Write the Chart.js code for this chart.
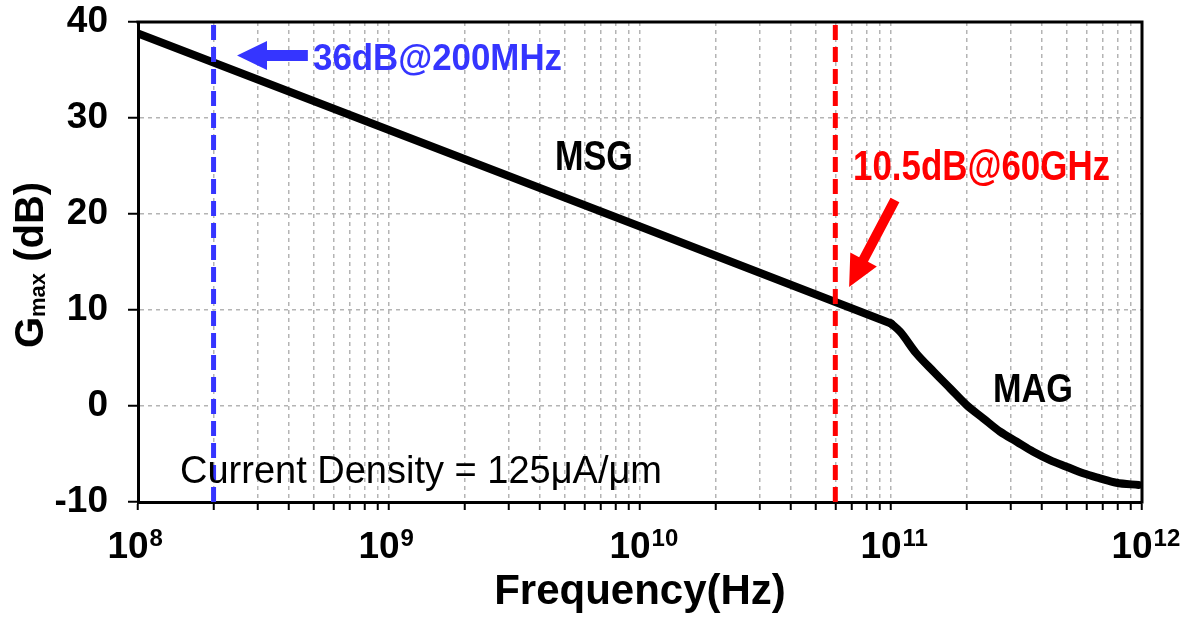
<!DOCTYPE html>
<html><head><meta charset="utf-8">
<script src="https://cdn.jsdelivr.net/npm/chart.js@4/dist/chart.umd.min.js"></script>
<style>html,body{margin:0;padding:0;background:#fff;}#wrap{width:1182px;height:621px;}</style>
</head><body><div id="wrap"><canvas id="c" width="1182" height="621"></canvas></div>
<script>
// ---- data ----
const msgFreqHz = [1e8, 1e9, 1e10, 1e11];
const msgDb = [38.8, 28.75, 18.7, 8.6];
const magFreqHz = [1e11, 1.087e11, 1.26e11, 1.48e11, 1.72e11, 2.0e11, 2.33e11, 2.72e11, 3.17e11, 3.69e11, 4.3e11, 5.0e11, 5.83e11, 6.8e11, 7.9e11, 9.7e11];
const magDb = [8.6, 7.74, 5.49, 3.57, 1.84, 0.10, -1.28, -2.67, -3.72, -4.76, -5.63, -6.32, -7.01, -7.53, -7.99, -8.23];
const markerFreqHz = [2e8, 6e10];
const markerColors = ['#3535ff', '#ff0000'];
const xDecades = [1e8, 1e9, 1e10, 1e11, 1e12];
const xTickBase = ['10', '10', '10', '10', '10'];
const xTickExp = ['8', '9', '10', '11', '12'];
const yTickValues = [-10, 0, 10, 20, 30, 40];
const yMin = -10, yMax = 40;

const xTickValues = [];
for (let d = 0; d < xDecades.length; d++) {
  xTickValues.push(xDecades[d]);
  if (d < xDecades.length - 1) for (let m = 2; m <= 9; m++) xTickValues.push(m * xDecades[d]);
}

const SANS = "'Liberation Sans',Arial,sans-serif";
const TICK_SIZE = 37, X_TICK_LEN = 8, X_TICK_PAD = 16, X_LABEL_OFFSET = -10;

function arrow(ctx, x1, y1, x2, y2, shaftW, headL, headW, color) {
  const ang = Math.atan2(y2 - y1, x2 - x1), len = Math.hypot(x2 - x1, y2 - y1);
  ctx.save(); ctx.translate(x1, y1); ctx.rotate(ang); ctx.fillStyle = color;
  ctx.beginPath();
  ctx.moveTo(0, -shaftW / 2); ctx.lineTo(len - headL, -shaftW / 2); ctx.lineTo(len - headL, -headW / 2);
  ctx.lineTo(len, 0); ctx.lineTo(len - headL, headW / 2); ctx.lineTo(len - headL, shaftW / 2); ctx.lineTo(0, shaftW / 2);
  ctx.closePath(); ctx.fill(); ctx.restore();
}
function txt(ctx, s, x, y, font, color, maxW) {
  ctx.font = font; ctx.fillStyle = color; ctx.textAlign = 'left'; ctx.textBaseline = 'alphabetic';
  if (maxW) ctx.fillText(s, x, y, maxW); else ctx.fillText(s, x, y);
}

const annot = {
  id: 'annot',
  afterDraw(chart) {
    const {ctx, chartArea: a, scales: {x, y}} = chart;
    const X = v => x.getPixelForValue(v), Y = v => y.getPixelForValue(v);
    ctx.save();
    // frame top/right
    ctx.strokeStyle = '#000'; ctx.lineWidth = 3;
    ctx.beginPath(); ctx.moveTo(a.left - 1.5, a.top); ctx.lineTo(a.right, a.top); ctx.lineTo(a.right, a.bottom + 1.5); ctx.stroke();
    // exponents of x tick labels
    ctx.font = "bold " + TICK_SIZE + "px " + SANS; ctx.textBaseline = 'top';
    const m10 = ctx.measureText('10');
    const yLab = x.top + X_TICK_LEN + X_TICK_PAD;
    const glyphTop = yLab - m10.actualBoundingBoxAscent;
    ctx.font = "bold 24px " + SANS;
    const me = ctx.measureText('8');
    xDecades.forEach((d, i) => {
      const px = X(d) + X_LABEL_OFFSET + m10.width / 2 + 1;
      ctx.fillStyle = '#000'; ctx.textAlign = 'left'; ctx.textBaseline = 'top';
      ctx.fillText(xTickExp[i], px, glyphTop + me.actualBoundingBoxAscent);
    });
    // blue annotation
    arrow(ctx, X(4.75e8), Y(36.5), X(2.48e8), Y(36.5), 11, 30, 29, '#3535ff');
    txt(ctx, '36dB@200MHz', X(4.98e8), Y(35.0), "bold 37px " + SANS, '#3535ff', 249);
    // MSG
    txt(ctx, 'MSG', X(4.58e9), Y(24.6), "bold 43px " + SANS, '#000', 78);
    // red annotation
    txt(ctx, '10.5dB@60GHz', X(7.06e10), Y(23.5), "bold 43px " + SANS, '#ff0000', 257);
    arrow(ctx, X(1.037e11), Y(21.46), X(6.81e10), Y(12.4), 10, 31, 30, '#ff0000');
    // MAG
    txt(ctx, 'MAG', X(2.55e11), Y(0.42), "bold 41px " + SANS, '#000', 80);
    // current density
    txt(ctx, 'Current Density = 125\u03bcA/\u03bcm', X(1.47e8), Y(-8.0), "38px " + SANS, '#000');
    // y-axis title with subscript
    const cy = (a.top + a.bottom) / 2 + 3;
    ctx.translate(43, cy); ctx.rotate(-Math.PI / 2);
    ctx.font = "bold 40px " + SANS; const wG = ctx.measureText('G').width;
    const wR = ctx.measureText(' (dB)').width;
    ctx.font = "bold 22px " + SANS; const wM = ctx.measureText('max').width;
    let sx = -(wG + wM + wR) / 2;
    txt(ctx, 'G', sx, 0, "bold 40px " + SANS, '#000'); sx += wG;
    txt(ctx, 'max', sx, 2, "bold 22px " + SANS, '#000'); sx += wM;
    txt(ctx, ' (dB)', sx, 0, "bold 40px " + SANS, '#000');
    ctx.restore();
  }
};

const markerSets = markerFreqHz.map((f, i) => ({
  label: 'marker ' + i, data: [{x: f, y: yMin}, {x: f, y: yMax}],
  borderColor: markerColors[i], borderWidth: 5, borderDash: [15, 7], pointRadius: 0
}));

new Chart(document.getElementById('c'), {
  type: 'line',
  data: {
    datasets: [
      ...markerSets,
      {label: 'MSG', data: msgFreqHz.map((f, i) => ({x: f, y: msgDb[i]})), borderColor: '#000', borderWidth: 8, pointRadius: 0, tension: 0, borderJoinStyle: 'round', borderCapStyle: 'round'},
      {label: 'MAG', data: magFreqHz.map((f, i) => ({x: f, y: magDb[i]})), borderColor: '#000', borderWidth: 8, pointRadius: 0, cubicInterpolationMode: 'monotone', borderJoinStyle: 'round', borderCapStyle: 'round'}
    ]
  },
  options: {
    responsive: false, animation: false,
    layout: {padding: {top: 22, right: 40, left: 0, bottom: 0}},
    plugins: {legend: {display: false}, tooltip: {enabled: false}},
    scales: {
      x: {
        type: 'logarithmic', min: 1e8, max: 1e12,
        afterBuildTicks: s => { s.ticks = xTickValues.map(v => ({value: v})); },
        afterFit: s => { s.height = 119; s.paddingLeft = 0; s.paddingRight = 0; },
        grid: {color: '#b4b4b4', lineWidth: 1.5, tickLength: X_TICK_LEN, tickColor: '#000', tickWidth: 2, tickBorderDash: []},
        border: {display: true, color: '#000', width: 3, dash: [4, 4]},
        ticks: {autoSkip: false, maxRotation: 0, minRotation: 0, padding: X_TICK_PAD, labelOffset: X_LABEL_OFFSET, color: '#000',
          font: {family: SANS, size: TICK_SIZE, weight: 'bold'},
          callback: v => { const i = xDecades.indexOf(v); return i >= 0 ? xTickBase[i] : ''; }},
        title: {display: true, text: 'Frequency(Hz)', color: '#000', font: {family: SANS, size: 42, weight: 'bold'}, padding: {top: 0, bottom: 3}}
      },
      y: {
        min: yMin, max: yMax,
        afterBuildTicks: s => { s.ticks = yTickValues.map(v => ({value: v})); },
        afterFit: s => { s.width = 138; s.paddingTop = 0; s.paddingBottom = 0; },
        grid: {color: '#b4b4b4', lineWidth: 1.5, tickLength: 10, tickColor: '#000', tickWidth: 2, tickBorderDash: []},
        border: {display: true, color: '#000', width: 3, dash: [4, 4]},
        ticks: {padding: 20, color: '#000', font: {family: SANS, size: TICK_SIZE, weight: 'bold'}}
      }
    }
  },
  plugins: [annot]
});
</script></body></html>
